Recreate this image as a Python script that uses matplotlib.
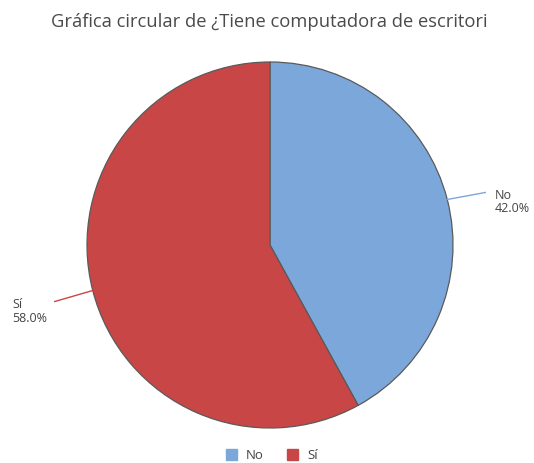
import matplotlib
matplotlib.use("Agg")
import matplotlib.pyplot as plt
import numpy as np

categories = ["No", "Sí"]
values = [42.0, 58.0]
colors = ["#7BA7DA", "#C84646"]
title = "Gráfica circular de ¿Tiene computadora de escritori"

W, H = 534, 463
fig = plt.figure(figsize=(W / 100, H / 100), dpi=100)
ax = fig.add_axes([0, 0, 1, 1])

cx, cy, r = 270, H - 245, 183
wedges, _ = ax.pie(values, colors=colors, startangle=90, counterclock=False,
                   center=(cx, cy), radius=r, frame=True,
                   wedgeprops=dict(edgecolor="#5a5a5a", linewidth=0.9))
ax.set_xlim(0, W)
ax.set_ylim(0, H)
ax.set_aspect("equal")
ax.axis("off")

font = "Open Sans"
total = sum(values)
start = 90.0
label_cfg = [
    # line end dx, dy, text x, baseline of first line (px from top)
    (38, 7, 495, 199),
    (-38, -11, 12, 308),
]
for i, (cat, v) in enumerate(zip(categories, values)):
    mid = start - v / total * 360 / 2
    start -= v / total * 360
    a = np.deg2rad(mid)
    x0, y0 = cx + r * np.cos(a), cy + r * np.sin(a)
    dx, dy, tx, base = label_cfg[i]
    ax.plot([x0, x0 + dx], [y0, y0 + dy], color=colors[i], lw=1.0)
    ax.text(tx, H - base, cat, ha="left", va="baseline", fontsize=9,
            color="#444444", family=font)
    ax.text(tx, H - base - 13.5, f"{v:.1f}%", ha="left", va="baseline",
            fontsize=9, color="#444444", family=font)

fig.text(269.5 / W, 1 - 27 / H, title, ha="center", va="baseline", fontsize=13.2,
         color="#4a4a4a", family=font)

# legend
for i, cat in enumerate(categories):
    lx = [226, 287][i]
    ax.add_patch(plt.Rectangle((lx, H - 460), 11, 11, color=colors[i]))
    ax.text(lx + 20, H - 459, cat, ha="left", va="baseline", fontsize=9.5,
            color="#444444", family=font)

fig.savefig("out.png", dpi=100)
